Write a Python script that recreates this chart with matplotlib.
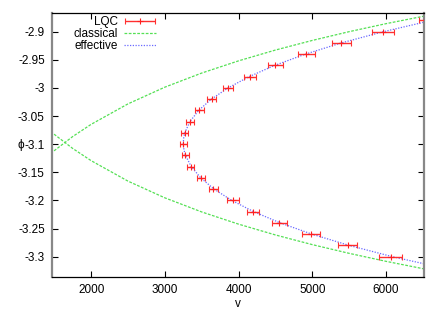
import matplotlib
matplotlib.use("Agg")
import matplotlib.pyplot as plt
from matplotlib.ticker import FuncFormatter
from matplotlib.legend_handler import HandlerErrorbar

plt.rcParams['font.family'] = ['Liberation Sans', 'DejaVu Sans']
plt.rcParams['font.size'] = 8.5

# LQC points (v, phi, error in v)
lqc_phi = [-2.88, -2.90, -2.92, -2.94, -2.96, -2.98, -3.00, -3.02, -3.04, -3.06, -3.08,
           -3.10, -3.12, -3.14, -3.16, -3.18, -3.20, -3.22, -3.24, -3.26, -3.28, -3.30]
lqc_v = [6640, 5964, 5396, 4917, 4497, 4153, 3863, 3637, 3470, 3343, 3271,
         3252, 3280, 3352, 3487, 3660, 3922, 4194, 4555, 4981, 5478, 6063]
lqc_err = [190, 150, 127, 115, 100, 82, 68, 60, 56, 52, 47,
           43, 43, 45, 57, 65, 79, 85, 100, 118, 129, 154]

# effective trajectory
eff_phi = [-2.88, -2.90, -2.92, -2.94, -2.96, -2.98, -3.00, -3.02, -3.04, -3.06, -3.08, -3.09,
           -3.10, -3.11, -3.12, -3.14, -3.16, -3.18, -3.20, -3.22, -3.24, -3.26, -3.28, -3.30, -3.32]
eff_v = [6617, 5963, 5392, 4903, 4488, 4141, 3857, 3630, 3458, 3339, 3270, 3254,
         3250, 3259, 3280, 3359, 3488, 3669, 3908, 4205, 4566, 4996, 5500, 6086, 6766]

# classical trajectories (expanding and contracting branch)
cl_v = [1400, 1500, 1750, 2000, 2500, 3000, 3500, 4000, 4500, 5000, 5500, 6000, 6500, 6600]
cl_phi_up = [-3.1200, -3.1115, -3.0864, -3.0647, -3.0283, -2.9986, -2.9735, -2.9518,
             -2.9326, -2.9155, -2.8999, -2.8857, -2.8727, -2.8702]
cl_phi_down = [-3.0740, -3.0825, -3.1076, -3.1293, -3.1657, -3.1954, -3.2205, -3.2422,
               -3.2614, -3.2786, -3.2941, -3.3083, -3.3213, -3.3238]

fig = plt.figure(figsize=(4.43, 3.10), dpi=100)
ax = fig.add_axes([0.1167, 0.1075, 0.8398, 0.8495])

h_lqc = ax.errorbar(lqc_v, lqc_phi, xerr=lqc_err, fmt='+', color='#ff2020', ecolor='#ff3030',
                    elinewidth=1.0, capsize=2.5, capthick=1.0, markersize=4, markeredgewidth=0.8,
                    label='LQC', zorder=3)
h_cl, = ax.plot(cl_v, cl_phi_up, color='#55e055', lw=0.9, dashes=(2.2, 1.2), label='classical')
ax.plot(cl_v, cl_phi_down, color='#55e055', lw=0.9, dashes=(2.2, 1.2))
h_eff, = ax.plot(eff_v, eff_phi, color='#6a6aff', lw=0.9, dashes=(1.0, 1.2), label='effective')

ax.set_xlim(1465, 6512)
ax.set_ylim(-3.3356, -2.8673)
ax.set_xticks([2000, 3000, 4000, 5000, 6000])
ax.set_yticks([-2.9, -2.95, -3.0, -3.05, -3.1, -3.15, -3.2, -3.25, -3.3])
ax.yaxis.set_major_formatter(FuncFormatter(lambda y, p: '%g' % round(y, 3)))
ax.tick_params(direction='in', length=4, width=0.8, top=True, right=True, pad=5)

for s in ['top', 'bottom']:
    ax.spines[s].set_color('black')
    ax.spines[s].set_linewidth(0.9)
for s in ['left', 'right']:
    ax.spines[s].set_color('#888888')
    ax.spines[s].set_linewidth(1.6)

ax.set_xlabel('v', labelpad=2)
ax.set_ylabel('ϕ', rotation=0, ha='right', va='center')
ax.yaxis.set_label_coords(-0.074, 0.5)

leg = ax.legend([h_lqc, h_cl, h_eff], ['LQC', 'classical', 'effective'],
                loc='upper right', bbox_to_anchor=(0.28, 0.99), frameon=False,
                markerfirst=False, borderpad=0, borderaxespad=0, handlelength=2.7,
                handletextpad=0.5, labelspacing=0.0, fontsize=8.5,
                handler_map={h_lqc: HandlerErrorbar(xerr_size=1.3)})

fig.savefig('out.png', dpi=100)
